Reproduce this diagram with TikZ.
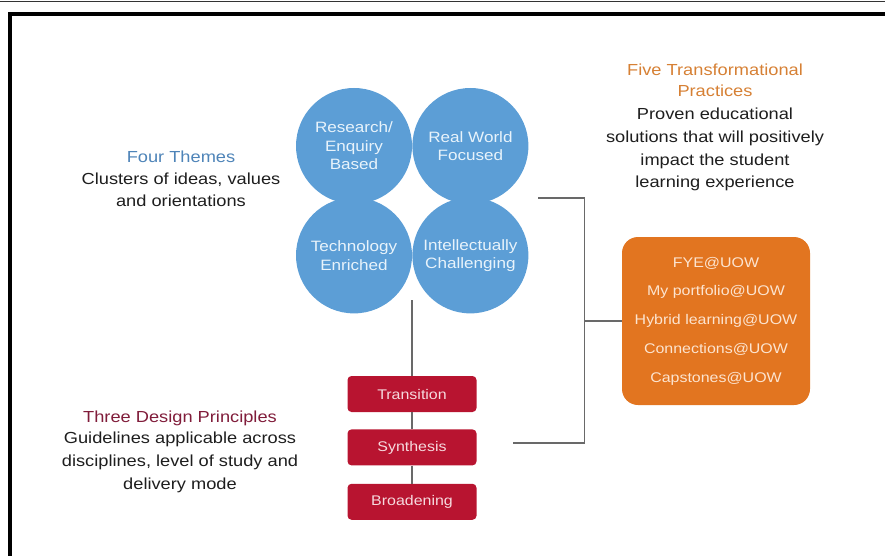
\documentclass[tikz,border=0pt]{standalone}
\usepackage{fontspec}
\setmainfont{Liberation Sans}[FakeStretch=1.14]
\usetikzlibrary{positioning}

\definecolor{themeblue}{RGB}{92,158,214}
\definecolor{themetitle}{RGB}{78,132,184}
\definecolor{practiceorange}{RGB}{226,117,32}
\definecolor{practicetitle}{RGB}{214,128,52}
\definecolor{principlered}{RGB}{184,20,48}
\definecolor{principletitle}{RGB}{128,28,58}
\definecolor{bodytext}{RGB}{30,30,30}
\definecolor{linkgray}{RGB}{105,105,105}

\begin{document}
\begin{tikzpicture}[x=1pt, y=-1pt,
		theme/.style={circle, fill=themeblue, inner sep=0pt, minimum size=116pt, text={rgb,255:red,232;green,243;blue,251}, align=center, font=\fontsize{15}{18.5}\selectfont},
		principle/.style={rectangle, rounded corners=4pt, fill=principlered, inner sep=0pt, minimum width=129pt, minimum height=36pt, text={rgb,255:red,246;green,218;blue,222}, font=\fontsize{14}{17}\selectfont},
		practices/.style={rectangle, rounded corners=16pt, fill=practiceorange, inner sep=0pt, minimum width=188pt, minimum height=168pt, text={rgb,255:red,252;green,228;blue,208}, align=center, font=\fontsize{14}{28.75}\selectfont},
		heading/.style={anchor=base, inner sep=0pt, align=center, font=\fontsize{16}{21}\selectfont},
		blurb/.style={anchor=base, inner sep=0pt, align=center, text=bodytext, font=\fontsize{16}{22.5}\selectfont},
		link/.style={draw=linkgray, line width=1.2pt}
	]
	\useasboundingbox (0,0) rectangle (885,556);
	\draw[line width=1pt, black!80] (0,1.5) -- (885,1.5);
	\draw[line width=4pt] (9.5,556) -- (9.5,14) -- (885,14);

	\node[theme] (research) at (354,146) {Research/\\Enquiry\\Based};
	\node[theme, right=0pt of research] (realworld) {Real World\\Focused};
	\node[theme, below=-7pt of research] (technology) {Technology\\Enriched};
	\node[theme, below=-7pt of realworld] (intellect) {Intellectually\\Challenging};

	\node[principle] (transition) at (412,394) {Transition};
	\node[principle, below=17pt of transition] (synthesis) {Synthesis};
	\node[principle, below=18pt of synthesis] (broadening) {Broadening};

	\node[practices] (fivepractices) at (716,321) {FYE@UOW\\My portfolio@UOW\\Hybrid learning@UOW\\Connections@UOW\\Capstones@UOW};

	\node[heading, text=themetitle] (themestitle) at (181,163) {Four Themes};
	\node[blurb] (themesblurb) at ([yshift=-43.5pt]themestitle.base) {Clusters of ideas, values\\and orientations};
	\node[heading, text=practicetitle] (practicestitle) at (715,97) {Five Transformational\\Practices};
	\node[blurb] (practicesblurb) at ([yshift=-90.5pt]practicestitle.base) {Proven educational\\solutions that will positively\\impact the student\\learning experience};
	\node[heading, text=principletitle] (principlestitle) at (180,422) {Three Design Principles};
	\node[blurb, font=\fontsize{16}{23}\selectfont] (principlesblurb) at ([yshift=-67pt]principlestitle.base) {Guidelines applicable across\\disciplines, level of study and\\delivery mode};

	\coordinate (stem) at (412,300);
	\coordinate (themesend) at (538,198);
	\coordinate (principlesend) at (513,443);
	\coordinate (junction) at ([xshift=-37pt]fivepractices.west);

	\foreach \i/\j in {stem/transition, transition/synthesis, synthesis/broadening, junction/fivepractices}
		\draw[link] (\i) -- (\j);

	\draw[link] (themesend) -| (junction) |- (principlesend);

\end{tikzpicture}
\end{document}
